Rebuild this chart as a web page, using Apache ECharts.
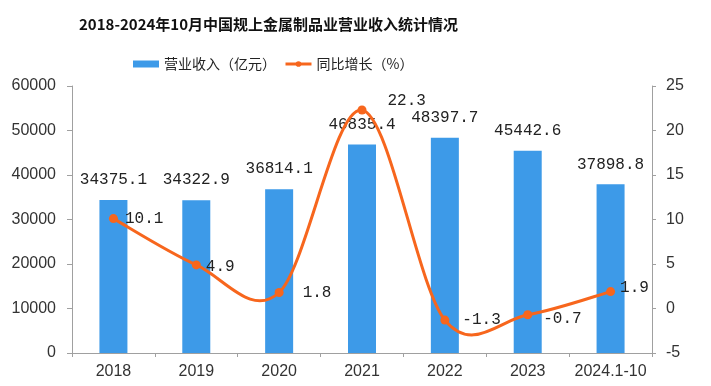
<!DOCTYPE html>
<html>
<head>
<meta charset="utf-8">
<script src="https://cdn.jsdelivr.net/npm/echarts@6/dist/echarts.min.js"></script>
<style>
html,body{margin:0;padding:0;background:#fff;}
#chart{width:711px;height:386px;}
</style>
</head>
<body>
<div id="chart"></div>
<script>
var titleText = '2018-2024年10月中国规上金属制品业营业收入统计情况';
var categories = ['2018', '2019', '2020', '2021', '2022', '2023', '2024.1-10'];
var revenue = [34375.1, 34322.9, 36814.1, 46835.4, 48397.7, 45442.6, 37898.8];
var growth = [10.1, 4.9, 1.8, 22.3, -1.3, -0.7, 1.9];
var revenueName = '营业收入（亿元）';
var growthName = '同比增长（%）';
var leftTicks = {min: 0, max: 60000, interval: 10000};
var rightTicks = {min: -5, max: 25, interval: 5};

// presentational label nudges for the growth labels [dx, dy]
var labelNudge = [[2, 0], [0, 2], [14, 0], [16, -9], [8, 0], [6, 4], [0, -4]];

var BAR_COLOR = '#3d9ae8';
var LINE_COLOR = '#f7661d';
var MONO = '"Liberation Mono", "DejaVu Sans Mono", monospace';
var SANS = '"Liberation Sans", Arial, sans-serif';

var chart = echarts.init(document.getElementById('chart'), null, {renderer: 'canvas'});

function renderCurve(params, api) {
  var i = params.dataIndex, n = growth.length;
  if (i >= n - 1) return null;
  function P(k) {
    k = Math.max(0, Math.min(n - 1, k));
    return api.coord([k, growth[k]]);
  }
  var p0 = P(i - 1), p1 = P(i), p2 = P(i + 1), p3 = P(i + 2);
  var t = 1 / 6;
  return {
    type: 'bezierCurve',
    shape: {
      x1: p1[0], y1: p1[1], x2: p2[0], y2: p2[1],
      cpx1: p1[0] + (p2[0] - p0[0]) * t, cpy1: p1[1] + (p2[1] - p0[1]) * t,
      cpx2: p2[0] - (p3[0] - p1[0]) * t, cpy2: p2[1] - (p3[1] - p1[1]) * t
    },
    style: {stroke: LINE_COLOR, lineWidth: 3, fill: null, lineCap: 'round'},
    silent: true
  };
}

var growthData = growth.map(function (v, i) {
  return {
    value: v,
    label: {offset: labelNudge[i]}
  };
});

var option = {
  animation: false,
  backgroundColor: '#ffffff',
  title: {
    text: titleText,
    left: 74,
    top: 12,
    textStyle: {
      fontFamily: '"Noto Sans CJK SC", sans-serif',
      fontSize: 15,
      fontWeight: 'bold',
      color: '#111'
    }
  },
  legend: {
    data: [
      {name: revenueName, icon: 'rect'},
      {name: growthName}
    ],
    left: 128,
    top: 52,
    itemWidth: 26,
    itemHeight: 7,
    itemGap: 8,
    textStyle: {
      fontFamily: '"Noto Sans CJK SC", sans-serif',
      fontSize: 14,
      color: '#222'
    },
    lineStyle: {width: 3, color: LINE_COLOR, opacity: 1}
  },
  grid: {left: 72, right: 59, top: 86, bottom: 33},
  xAxis: {
    type: 'category',
    data: categories,
    boundaryGap: true,
    axisLine: {lineStyle: {color: '#a0a0a0', width: 1}},
    axisTick: {show: true, length: 4, lineStyle: {color: '#a0a0a0'}},
    axisLabel: {
      fontFamily: SANS,
      fontSize: 16,
      color: '#333',
      margin: 11,
      interval: 0
    },
    splitLine: {show: false}
  },
  yAxis: [
    {
      type: 'value',
      min: leftTicks.min, max: leftTicks.max, interval: leftTicks.interval,
      axisLine: {show: true, lineStyle: {color: '#a0a0a0'}},
      axisTick: {show: true, length: 5, lineStyle: {color: '#a0a0a0'}},
      axisLabel: {
        fontFamily: SANS, fontSize: 16, color: '#333', margin: 16,
        formatter: function (v) { return String(v); }
      },
      splitLine: {show: false}
    },
    {
      type: 'value',
      min: rightTicks.min, max: rightTicks.max, interval: rightTicks.interval,
      axisLine: {show: true, lineStyle: {color: '#a0a0a0'}},
      axisTick: {show: true, length: 4, lineStyle: {color: '#a0a0a0'}},
      axisLabel: {
        fontFamily: SANS, fontSize: 16, color: '#333', margin: 14,
        formatter: function (v) { return String(v); }
      },
      splitLine: {show: false}
    }
  ],
  series: [
    {
      name: revenueName,
      type: 'bar',
      data: revenue,
      barWidth: 28,
      itemStyle: {color: BAR_COLOR},
      label: {
        show: true,
        position: 'top',
        distance: 12,
        fontFamily: MONO,
        fontSize: 16,
        color: '#222'
      },
      z: 2
    },
    {
      name: 'curve',
      type: 'custom',
      yAxisIndex: 1,
      renderItem: renderCurve,
      data: growth,
      z: 3,
      silent: true
    },
    {
      name: growthName,
      type: 'line',
      yAxisIndex: 1,
      data: growthData,
      symbol: 'circle',
      symbolSize: 9,
      itemStyle: {color: LINE_COLOR},
      lineStyle: {width: 0, opacity: 0, color: LINE_COLOR},
      label: {
        show: true,
        position: 'right',
        distance: 5,
        fontFamily: MONO,
        fontSize: 16,
        color: '#222'
      },
      z: 4
    }
  ]
};
chart.setOption(option);
</script>
</body>
</html>
